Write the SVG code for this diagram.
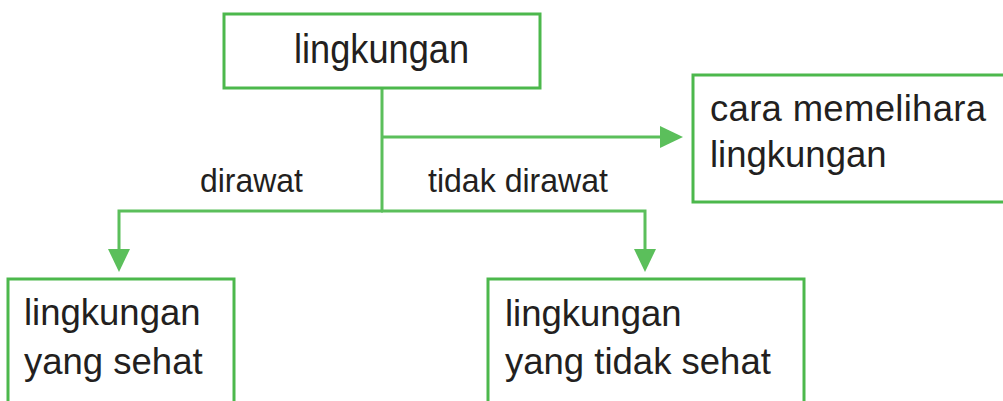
<svg xmlns="http://www.w3.org/2000/svg" width="1003" height="401" viewBox="0 0 1003 401">
  <style>
    .box { fill: #ffffff; stroke: #4cb84c; stroke-width: 3; }
    .conn { fill: none; stroke: #5bbf5b; stroke-width: 3; stroke-linejoin: miter; }
    .t { font-family: "Liberation Sans", Arial, sans-serif; fill: #231f20; }
    .big { font-size: 36.5px; }
    .lbl { font-size: 33px; }
  </style>
  <defs>
    <marker id="arrow" markerUnits="userSpaceOnUse" markerWidth="23" markerHeight="22" refX="0" refY="11" orient="auto">
      <path d="M0,0 L23,11 L0,22 Z" fill="#5bbf5b"/>
    </marker>
  </defs>
  <rect width="1003" height="401" fill="#ffffff"/>

  <g id="connectors">
    <path class="conn" d="M382,88 V211"/>
    <path class="conn" d="M382,137 H660" marker-end="url(#arrow)"/>
    <path class="conn" d="M383,211 H119 V249" marker-end="url(#arrow)"/>
    <path class="conn" d="M381,211 H645 V249" marker-end="url(#arrow)"/>
    <text class="t lbl" x="200" y="192" textLength="103" lengthAdjust="spacingAndGlyphs">dirawat</text>
    <text class="t lbl" x="428" y="192" textLength="180" lengthAdjust="spacingAndGlyphs">tidak dirawat</text>
  </g>

  <g id="node-lingkungan">
    <rect class="box" x="224" y="14" width="316" height="74"/>
    <text class="t" x="294" y="63" font-size="40" textLength="175" lengthAdjust="spacingAndGlyphs">lingkungan</text>
  </g>

  <g id="node-cara">
    <rect class="box" x="693" y="75" width="330" height="127"/>
    <text class="t big" x="710" y="121" textLength="276" lengthAdjust="spacing">cara memelihara</text>
    <text class="t big" x="710" y="167">lingkungan</text>
  </g>

  <g id="node-sehat">
    <rect class="box" x="8" y="279" width="226" height="140"/>
    <text class="t big" x="24" y="325">lingkungan</text>
    <text class="t big" x="24" y="374">yang sehat</text>
  </g>

  <g id="node-tidak-sehat">
    <rect class="box" x="488" y="279" width="316" height="140"/>
    <text class="t big" x="505" y="326">lingkungan</text>
    <text class="t big" x="505" y="374">yang tidak sehat</text>
  </g>
</svg>
